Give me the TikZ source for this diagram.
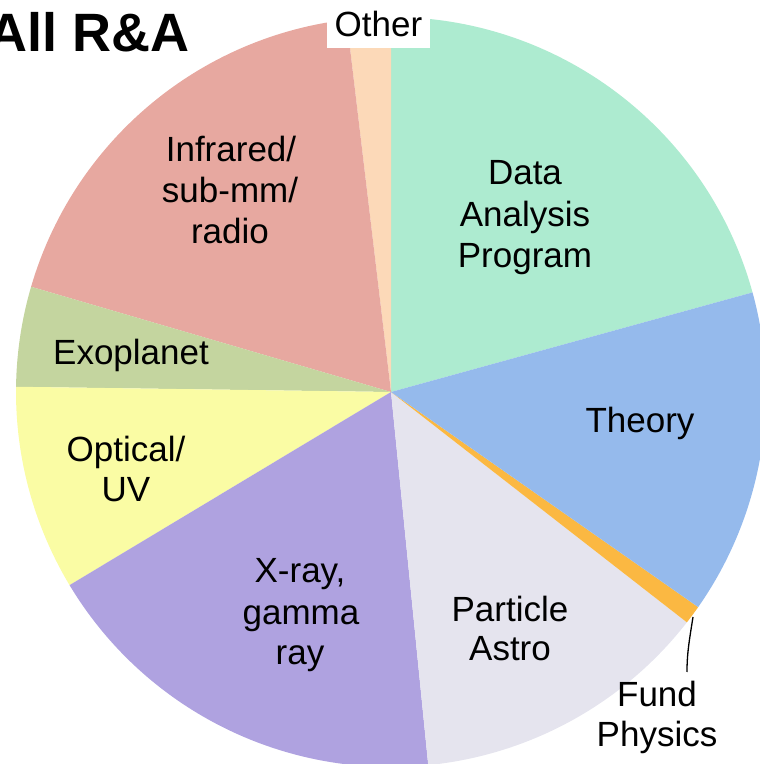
\documentclass[tikz,border=0pt]{standalone}
\usepackage{fontspec}
\setmainfont{Liberation Sans}
\definecolor{cData}{RGB}{173,235,208}
\definecolor{cTheory}{RGB}{149,186,236}
\definecolor{cFund}{RGB}{251,184,66}
\definecolor{cPart}{RGB}{229,228,238}
\definecolor{cXray}{RGB}{175,162,224}
\definecolor{cOpt}{RGB}{250,252,164}
\definecolor{cExo}{RGB}{196,213,159}
\definecolor{cIR}{RGB}{231,168,160}
\definecolor{cOther}{RGB}{252,217,184}
\tikzset{
  lbl/.style={inner sep=0pt, anchor=base, font=\fontsize{35}{40}\selectfont},
  ttl/.style={inner sep=0pt, anchor=base east, font=\fontsize{54}{60}\selectfont\bfseries},
}
\begin{document}
\begin{tikzpicture}[x=1pt,y=1pt]
\useasboundingbox (0,0) rectangle (760,764);
\clip (0,0) rectangle (760,764);
\coordinate (c) at (391,372);
\foreach \a/\b/\col in {15.4/90/cData, 90/96.8/cOther, 96.8/163.7/cIR, 163.7/179.2/cExo, 179.2/211/cOpt, 211/275.7/cXray, 275.7/322.1/cPart, 322.1/325/cFund, 325/375.4/cTheory}{
  \fill[\col] (c) -- ++(\a:375) arc[start angle=\a, end angle=\b, radius=375] -- cycle;
}
% title
\node[ttl] (title) at (190,712) {All R\&A};
% Other label with white box
\node[lbl, fill=white, inner xsep=8pt, text height=42pt, text depth=11pt] (other) at (378.5,727) {Other};
% labels
\node[lbl] (data1) at (525,579) {Data};
\node[lbl] (data2) at (525,537) {Analysis};
\node[lbl] (data3) at (525,496) {Program};
\node[lbl] (theory) at (640,331) {Theory};
\node[lbl] (ir1) at (231,602) {Infrared/};
\node[lbl] (ir2) at (230,561) {sub-mm/};
\node[lbl] (ir3) at (230,520) {radio};
\node[lbl] (exo) at (131,399) {Exoplanet};
\node[lbl] (opt1) at (126,302) {Optical/};
\node[lbl] (opt2) at (126,262) {UV};
\node[lbl] (xr1) at (300,181) {X-ray,};
\node[lbl] (xr2) at (301,139) {gamma};
\node[lbl] (xr3) at (300,99) {ray};
\node[lbl] (pa1) at (510,142) {Particle};
\node[lbl] (pa2) at (510,103) {Astro};
\node[lbl] (fund1) at (657,57) {Fund};
\node[lbl] (fund2) at (657,17) {Physics};
% leader line
\coordinate (ls) at (693,147);
\coordinate (le) at (687,92);
\draw[line width=1.3pt] (ls) .. controls (689,122) and (687,110) .. (le);
\end{tikzpicture}
\end{document}
